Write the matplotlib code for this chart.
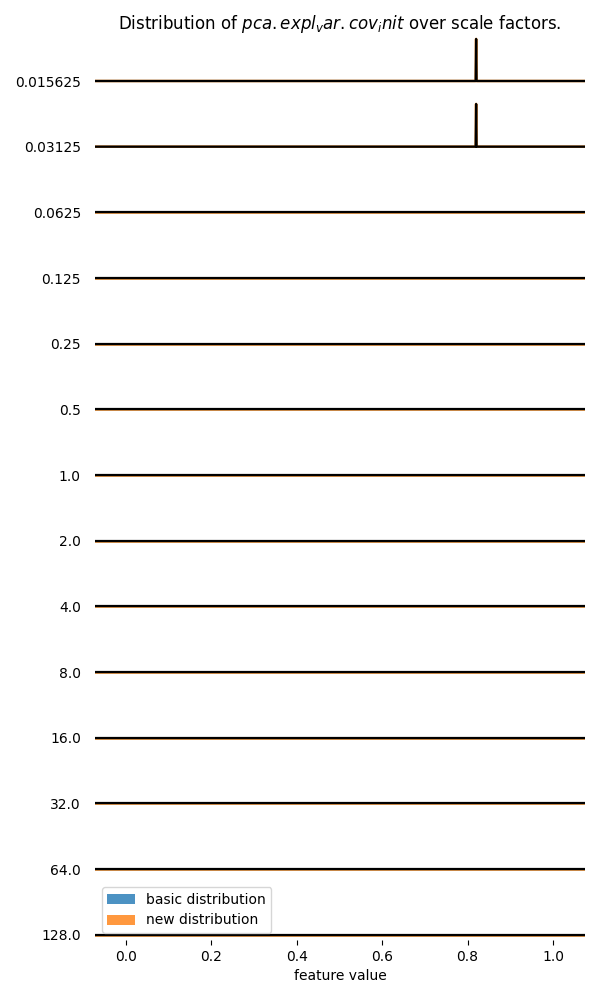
import numpy as np
import matplotlib
matplotlib.use('Agg')
import matplotlib.pyplot as plt

# scale factors shown on the y axis (top to bottom)
scale_factors = ['0.015625', '0.03125', '0.0625', '0.125', '0.25', '0.5', '1.0',
                 '2.0', '4.0', '8.0', '16.0', '32.0', '64.0', '128.0']
# feature value where the distribution collapses, and height of its peak per row
spike_x = 0.82
basic_peak = [0.64, 0.65, 0, 0, 0, 0, 0, 0, 0, 0, 0, 0, 0, 0]
new_peak = [0.64, 0.65, 0, 0, 0, 0, 0, 0, 0, 0, 0, 0, 0, 0]
x_grid = [-0.073, spike_x - 0.001, spike_x, spike_x + 0.001, 1.075]


def main():
    fig = plt.figure(figsize=(6, 10), dpi=100)
    ax = fig.add_axes([0.158, 0.06, 0.817, 0.903])

    for i, sf in enumerate(scale_factors):
        base = -i
        yb = [base, base, base + basic_peak[i], base, base]
        yn = [base, base, base + new_peak[i], base, base]
        ax.fill_between(x_grid, base, yb, color='#1f77b4', alpha=0.8, lw=0,
                        label='basic distribution' if i == 0 else None)
        ax.fill_between(x_grid, base, yn, color='#ff7f0e', alpha=0.8, lw=0,
                        label='new distribution' if i == 0 else None)
        ax.plot(x_grid, yn, color='#d9822b', lw=1.9)
        ax.plot(x_grid, yb, color='black', lw=1.6)

    ax.set_xlim(-0.073, 1.075)
    ax.set_ylim(-13.08, 0.67)
    ax.set_yticks(-np.arange(len(scale_factors)))
    ax.set_yticklabels(scale_factors)
    ax.tick_params(axis='y', length=0, pad=10, labelsize=10)
    ax.tick_params(axis='x', labelsize=10)
    ax.set_xticks([0.0, 0.2, 0.4, 0.6, 0.8, 1.0])
    for s in ax.spines.values():
        s.set_visible(False)
    ax.set_xlabel('feature value', fontsize=10)
    ax.set_title('Distribution of $pca.expl_var.cov_init$ over scale factors.',
                 fontsize=12)
    ax.legend(loc='lower left', fontsize=10)
    fig.savefig('out.png')


if __name__ == '__main__':
    main()
